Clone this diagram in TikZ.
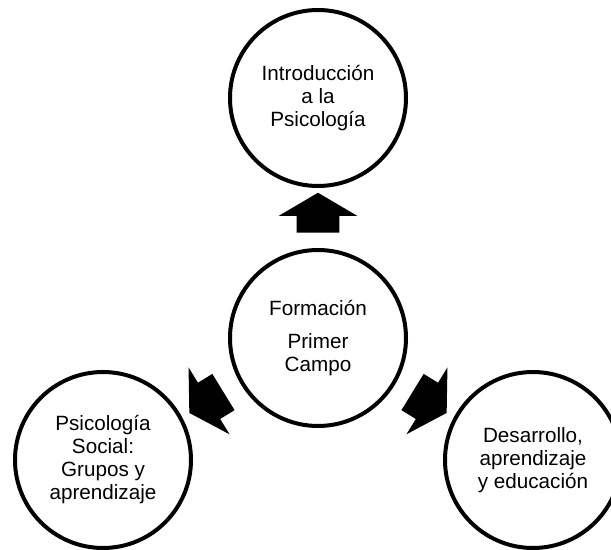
\documentclass[tikz,border=0pt]{standalone}
\usepackage{fontspec}
\setmainfont{Liberation Sans}
\usetikzlibrary{
	calc,
	positioning,
	shapes.geometric,
	shapes.arrows,
	}

\begin{document}
\begin{tikzpicture}[x=0.75pt, y=-0.75pt, on grid,
	bubble/.style={draw, circle, line width=3pt, minimum size=132pt, inner sep=0pt, align=center, font=\fontsize{15.5}{17.25}\selectfont},
	fatarrow/.style={single arrow, fill=black, draw=none, minimum width=30pt, minimum height=30pt, inner xsep=0pt, inner ysep=15.75pt, single arrow head extend=13.5pt, single arrow tip angle=119}]
		\useasboundingbox (-318,-338) rectangle (293,212);
		\node[bubble] (campo) {Formación\\[7pt] Primer\\ Campo};
		\node[bubble, above = 180pt of campo] (intro) {Introducción\\ a la\\ Psicología};
		\node[bubble, below left = 91.5pt and 161.25pt of campo] (social) {Psicología\\ Social:\\ Grupos y\\ aprendizaje};
		\node[bubble, below right = 91.5pt and 161.25pt of campo] (desarrollo) {Desarrollo,\\ aprendizaje\\ y educación};
		\node[fatarrow, rotate=90, above = 89.25pt of campo] (a1) {};
		\node[fatarrow, rotate=211.5, below left = 45.9pt and 79.7pt of campo] (a2) {};
		\node[fatarrow, rotate=-31.5, below right = 45.9pt and 79.7pt of campo] (a3) {};
	\end{tikzpicture}
\end{document}
